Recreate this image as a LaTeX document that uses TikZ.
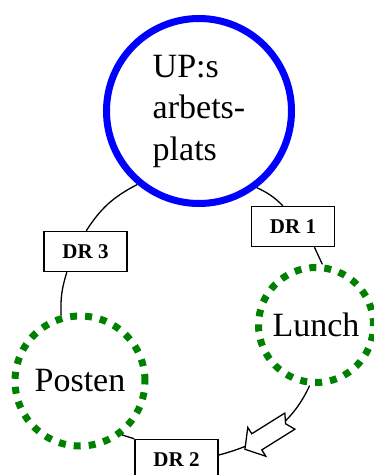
\documentclass[tikz,border=0pt]{standalone}
\usepackage{fontspec}
\setmainfont{Liberation Serif}
\usepackage{tikz}
\usetikzlibrary{decorations.markings}

\definecolor{upblue}{RGB}{0,0,255}
\definecolor{stopgreen}{RGB}{0,128,0}

\begin{document}
\begin{tikzpicture}[x=1pt,y=1pt,
    place/.style={circle,inner sep=0pt,font=\fontsize{34}{41.5}\selectfont},
    drbox/.style={draw,line width=1.4pt,minimum width=83pt,minimum height=40pt,
      inner sep=0pt,font=\fontsize{21}{25}\selectfont\bfseries},
    link/.style={line width=1.3pt},
    openarrow/.style={postaction={decorate},decoration={markings,
      mark=at position 0.56 with {\draw[line width=1.3pt,fill=white,line join=miter]
        (26,0) -- (12,17) -- (12,9.5) -- (-27,9.5) -- (-22,0) -- (-27,-9.5)
        -- (12,-9.5) -- (12,-17) -- cycle;}}}]

    \useasboundingbox (0,0) rectangle (374,475);

    % Workplace and the two stops
    \node[place,draw=upblue,line width=7pt,minimum size=185pt,align=left] (up) at (199,364)
      {UP:s\\arbets-\\plats};
    \node[place,draw=stopgreen,line width=7pt,dash pattern=on 7pt off 8pt,minimum size=115pt] (lunch) at (316,150) {Lunch};
    \node[place,draw=stopgreen,line width=7pt,dash pattern=on 7pt off 8pt,minimum size=130pt] (posten) at (80,94) {Posten};

    % Route boxes
    \node[drbox] (dr1) at (293,248.5) {DR 1};
    \node[drbox] (dr3) at (85.5,223.5) {DR 3};
    \node[drbox] (dr2) at (176.5,15.5) {DR 2};

    % Round trip
    \draw[link] (up.-53) to[bend left=10] (dr1.116);
    \draw[link] (dr1.-44) -- (lunch.84);
    \draw[link,openarrow] (lunch.264) to[out=245,in=15] (dr2.6);
    \draw[link] (posten.-52) -- (dr2.north west);
    \draw[link] (dr3.228) to[bend right=10] (posten.106);
    \draw[link] (up.230) to[bend right=15] (dr3.88);

\end{tikzpicture}
\end{document}
